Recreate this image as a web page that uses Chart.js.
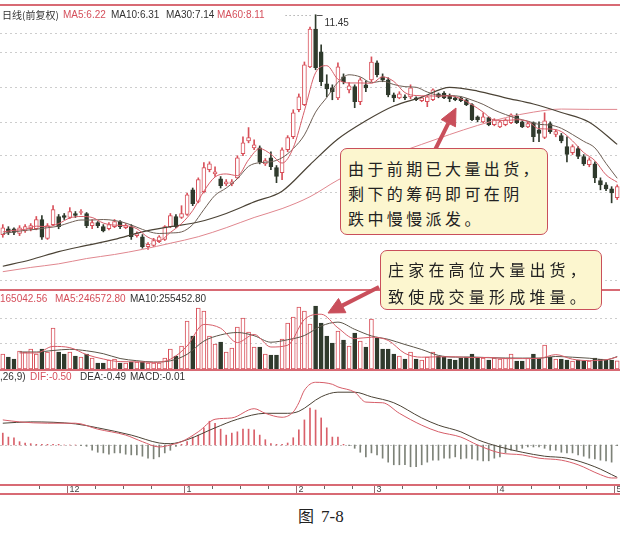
<!DOCTYPE html>
<html lang="zh-CN">
<head>
<meta charset="utf-8">
<title>日线 成交量 MACD</title>
<script src="https://cdn.jsdelivr.net/npm/chart.js@4.4.1/dist/chart.umd.min.js"></script>
<style>
  html, body { margin: 0; padding: 0; background: #fff; }
  #wrap { position: relative; width: 620px; height: 537px; overflow: hidden; background: #fff;
          font-family: "Liberation Sans", Arial, sans-serif; }
  #wrap canvas { position: absolute; left: 0; z-index: 1; }
  .rule { position: absolute; left: 0; width: 620px; background: #d86a74; z-index: 2; }
  .hdr { position: absolute; font-size: 10px; line-height: 12px; white-space: nowrap; z-index: 3; }
  .red { color: #d54f5b; }
  .dark { color: #333; }
  .cjk { font-family: "Noto Sans CJK SC", sans-serif; font-size: 10px; }
  svg.arrows { position: absolute; left: 0; top: 0; z-index: 4; }
  .note { position: absolute; z-index: 5; box-sizing: border-box; background: #fcf6cf;
          border: 1.5px solid #c94f5b; border-radius: 7px; color: #222; white-space: nowrap;
          font-family: "Noto Sans CJK SC", sans-serif; font-size: 16px; }
  .caption { position: absolute; left: 298px; top: 505px; line-height: 20px; color: #222; z-index: 3; white-space: nowrap; }
  .caption .fig { font-family: "Noto Sans CJK SC", sans-serif; font-size: 16px; }
  .caption .num { font-family: "Liberation Serif", serif; font-size: 17px; margin-left: 7px; }
</style>
</head>
<body>
<div id="wrap">
  <canvas id="priceCanvas" width="620" height="284" style="top:6px"></canvas>
  <canvas id="volCanvas" width="620" height="78" style="top:291px"></canvas>
  <canvas id="macdCanvas" width="620" height="124" style="top:372px"></canvas>

  <div class="rule" style="top:4px;height:2px"></div>
  <div class="rule" style="top:289px;height:2px"></div>
  <div class="rule" style="top:369px;height:2px"></div>

  <div class="hdr dark" style="left:2px;top:9px"><span class="cjk">日线(前复权)</span></div>
  <div class="hdr red"  style="left:63px;top:9px">MA5:6.22</div>
  <div class="hdr dark" style="left:111px;top:9px">MA10:6.31</div>
  <div class="hdr dark" style="left:166px;top:9px">MA30:7.14</div>
  <div class="hdr red"  style="left:217px;top:9px">MA60:8.11</div>

  <div class="hdr red"  style="left:0px;top:293px">165042.56</div>
  <div class="hdr red"  style="left:55px;top:293px">MA5:246572.80</div>
  <div class="hdr dark" style="left:130px;top:293px">MA10:255452.80</div>

  <div class="hdr dark" style="left:0px;top:371px">,26,9)</div>
  <div class="hdr red"  style="left:30px;top:371px">DIF:-0.50</div>
  <div class="hdr dark" style="left:80px;top:371px">DEA:-0.49</div>
  <div class="hdr dark" style="left:130px;top:371px">MACD:-0.01</div>

  <svg class="arrows" width="620" height="537" viewBox="0 0 620 537">
    <g fill="#c94f5b" stroke="#c94f5b">
      <line x1="435" y1="150" x2="448.4" y2="123.2" stroke-width="4"/>
      <polygon points="456,108 455.5,126.8 441.2,119.6" stroke-width="1"/>
      <line x1="379" y1="287" x2="342.2" y2="305.6" stroke-width="4"/>
      <polygon points="328,313 345.9,312.7 338.5,298.5" stroke-width="1"/>
    </g>
  </svg>

  <div class="note" style="left:340px;top:148px;width:208px;height:87px;padding:7px 0 0 7px;line-height:25px;letter-spacing:3.4px;">
    由于前期已大量出货，<br>剩下的筹码即可在阴<br>跌中慢慢派发。
  </div>
  <div class="note" style="left:380px;top:250px;width:222px;height:60px;padding:5px 0 0 7px;line-height:27px;letter-spacing:4.2px;">
    庄家在高位大量出货，<br>致使成交量形成堆量。
  </div>

  <div class="caption"><span class="fig">图</span><span class="num">7-8</span></div>
</div>

<script>
// ---- daily candles (前复权), one entry per trading day ----
const open = [
  5.14, 5.25, 5.25, 5.16, 5.21, 5.25, 5.25, 5.43, 5.07, 5.33,
  5.49, 5.51, 5.47, 5.55, 5.57, 5.55, 5.31, 5.37, 5.29, 5.25,
  5.29, 5.39, 5.27, 5.29, 5.12, 5.10, 4.92, 4.94, 5.01, 5.05,
  5.29, 5.49, 5.47, 5.53, 6.05, 5.80, 6.01, 6.51, 6.41, 6.30,
  6.18, 6.18, 6.32, 6.90, 7.23, 7.05, 7.05, 6.65, 6.80, 6.56,
  6.44, 7.00, 7.34, 8.10, 8.25, 9.47, 10.87, 10.00, 8.90, 8.77,
  8.46, 9.13, 8.71, 8.81, 8.34, 8.87, 9.03, 9.61, 9.13, 9.03,
  8.55, 8.46, 8.49, 8.49, 8.46, 8.37, 8.34, 8.40, 8.58, 8.61,
  8.52, 8.46, 8.46, 8.40, 8.25, 7.89, 7.75, 7.87, 7.67, 7.61,
  7.67, 7.73, 7.92, 7.75, 7.61, 7.73, 7.53, 7.32, 7.70, 7.40,
  7.37, 7.08, 6.93, 7.03, 6.83, 6.63, 6.65, 6.26, 6.16, 6.07,
  5.88
];
const high = [
  5.33, 5.29, 5.27, 5.31, 5.33, 5.35, 5.49, 5.51, 5.35, 5.71,
  5.53, 5.55, 5.67, 5.59, 5.63, 5.57, 5.43, 5.39, 5.33, 5.37,
  5.43, 5.41, 5.35, 5.33, 5.19, 5.14, 4.99, 5.07, 5.12, 5.31,
  5.55, 5.53, 5.71, 5.98, 6.09, 6.32, 6.68, 6.70, 6.58, 6.35,
  6.28, 6.28, 6.85, 7.34, 7.59, 7.26, 7.10, 6.78, 6.95, 6.61,
  7.05, 7.37, 8.10, 8.58, 9.64, 10.95, 11.45, 10.26, 9.20, 8.87,
  9.61, 9.23, 8.94, 8.87, 9.10, 9.00, 9.82, 9.68, 9.23, 9.10,
  8.61, 8.65, 8.55, 8.87, 8.49, 8.49, 8.52, 8.74, 8.61, 8.65,
  8.58, 8.49, 8.49, 8.43, 8.28, 7.92, 8.01, 7.89, 7.84, 7.78,
  7.84, 7.98, 7.98, 7.78, 7.75, 7.75, 7.75, 8.01, 7.75, 7.53,
  7.43, 7.34, 7.13, 7.08, 6.88, 6.80, 6.70, 6.32, 6.21, 6.12,
  6.16
];
const low = [
  5.09, 5.14, 5.14, 5.12, 5.18, 5.21, 5.23, 5.05, 5.05, 5.31,
  5.25, 5.43, 5.45, 5.47, 5.53, 5.27, 5.25, 5.27, 5.19, 5.23,
  5.27, 5.25, 5.25, 5.05, 5.09, 4.89, 4.87, 4.92, 4.99, 5.03,
  5.27, 5.27, 5.45, 5.51, 5.71, 5.77, 5.98, 6.46, 6.35, 6.09,
  6.14, 6.14, 6.30, 6.85, 7.18, 7.00, 6.65, 6.61, 6.51, 6.21,
  6.28, 6.95, 7.29, 8.04, 8.22, 9.44, 9.37, 8.84, 8.49, 8.40,
  8.40, 8.90, 8.61, 8.16, 8.25, 8.65, 8.97, 9.13, 8.97, 8.49,
  8.34, 8.43, 8.40, 8.43, 8.37, 8.34, 8.19, 8.37, 8.46, 8.43,
  8.34, 8.37, 8.34, 8.22, 7.78, 7.75, 7.73, 7.64, 7.64, 7.59,
  7.64, 7.70, 7.70, 7.59, 7.59, 7.21, 7.21, 7.29, 7.43, 7.34,
  7.18, 6.70, 6.88, 6.78, 6.61, 6.58, 6.21, 6.05, 6.03, 5.77,
  5.84
];
const close = [
  5.27, 5.18, 5.18, 5.27, 5.29, 5.31, 5.43, 5.09, 5.31, 5.63,
  5.29, 5.47, 5.59, 5.51, 5.59, 5.31, 5.37, 5.31, 5.21, 5.33,
  5.39, 5.29, 5.31, 5.10, 5.16, 4.92, 4.96, 5.03, 5.10, 5.29,
  5.51, 5.29, 5.55, 5.94, 5.75, 6.28, 6.56, 6.65, 6.46, 6.14,
  6.23, 6.23, 6.80, 7.18, 7.32, 7.13, 6.70, 6.73, 6.58, 6.35,
  7.00, 7.32, 8.01, 8.49, 9.54, 10.87, 9.44, 8.97, 8.74, 8.65,
  9.47, 8.97, 8.84, 8.34, 9.03, 8.77, 9.64, 9.20, 9.03, 8.55,
  8.46, 8.58, 8.46, 8.77, 8.40, 8.46, 8.49, 8.71, 8.49, 8.46,
  8.43, 8.40, 8.37, 8.25, 7.81, 7.81, 7.89, 7.67, 7.81, 7.75,
  7.81, 7.95, 7.73, 7.61, 7.70, 7.34, 7.43, 7.78, 7.48, 7.48,
  7.23, 6.88, 7.08, 6.83, 6.65, 6.75, 6.32, 6.16, 6.07, 5.98,
  6.12
];

// ---- moving averages of price, [day index, value] ----
const ma5 = [[0,5.19],[2,5.22],[4,5.24],[6,5.30],[8,5.29],[10,5.35],[12,5.46],[14,5.49],[16,5.47],[18,5.36],
  [20,5.32],[22,5.31],[24,5.25],[26,5.09],[28,5.03],[30,5.18],[32,5.35],[34,5.61],[36,6.02],[38,6.34],
  [40,6.41],[42,6.37],[44,6.75],[46,7.03],[48,6.89],[50,6.67],[52,7.05],[54,8.07],[56,9.27],[58,9.51],
  [60,9.05],[62,8.93],[64,8.93],[66,8.92],[68,9.13],[70,8.98],[72,8.62],[74,8.53],[76,8.52],[78,8.51],
  [80,8.52],[82,8.43],[84,8.25],[86,8.03],[88,7.80],[90,7.79],[92,7.81],[94,7.76],[96,7.56],[98,7.55],
  [100,7.48],[102,7.23],[104,6.93],[106,6.73],[108,6.39],[110,6.22]];
const ma10 = [[0,5.16],[2,5.19],[4,5.22],[6,5.24],[8,5.27],[10,5.30],[12,5.37],[14,5.42],[16,5.42],[18,5.43],
  [20,5.41],[22,5.36],[24,5.28],[26,5.20],[28,5.16],[30,5.17],[32,5.19],[34,5.33],[36,5.63],[38,5.93],
  [40,6.09],[42,6.30],[44,6.59],[46,6.68],[48,6.70],[50,6.80],[52,7.03],[54,7.39],[56,8.03],[58,8.47],
  [60,8.95],[62,9.20],[64,9.13],[66,8.94],[68,8.99],[70,8.88],[72,8.81],[74,8.79],[76,8.64],[78,8.54],
  [80,8.53],[82,8.50],[84,8.39],[86,8.26],[88,8.09],[90,7.96],[92,7.85],[94,7.77],[96,7.68],[98,7.66],
  [100,7.57],[102,7.40],[104,7.22],[106,7.05],[108,6.66],[110,6.31]];
const ma30 = [[0,4.58],[5,4.69],[10,4.83],[15,4.94],[20,5.05],[25,5.19],[30,5.29],[35,5.38],[40,5.55],[45,5.79],
  [50,6.02],[55,6.63],[60,7.28],[65,7.78],[70,8.21],[75,8.48],[80,8.79],[85,8.67],[90,8.46],[95,8.27],
  [100,8.02],[105,7.74],[110,7.14]];
const ma60 = [[0,4.49],[5,4.56],[10,4.62],[15,4.71],[20,4.78],[25,4.87],[30,4.98],[35,5.10],[40,5.27],[45,5.47],
  [50,5.65],[55,5.90],[60,6.27],[65,6.58],[70,6.88],[75,7.14],[80,7.40],[85,7.65],[90,7.87],[95,8.03],
  [100,8.12],[105,8.11],[110,8.11]];

// ---- volume (手) ----
const volume = [
  307500, 246000, 205000, 369000, 348500, 410000, 307500, 410000, 348500, 840500,
  348500, 307500, 348500, 266500, 246000, 307500, 225500, 123000, 123000, 184500,
  205000, 123000, 123000, 143500, 143500, 143500, 123000, 123000, 123000, 225500,
  410000, 266500, 471500, 984000, 676500, 1250500, 1189000, 676500, 512500, 553500,
  348500, 430500, 861000, 1045500, 758500, 451000, 451000, 307500, 287000, 287000,
  615000, 943000, 1066000, 1271000, 1189000, 922500, 1291500, 943000, 676500, 533000,
  779000, 594500, 471500, 738000, 574000, 451000, 1025000, 635500, 410000, 410000,
  307500, 266500, 205000, 348500, 205000, 184500, 246000, 348500, 266500, 246000,
  205000, 184500, 225500, 246000, 307500, 225500, 225500, 184500, 225500, 205000,
  225500, 307500, 164000, 164000, 225500, 307500, 225500, 492000, 246000, 205000,
  205000, 184500, 164000, 184500, 164000, 164000, 225500, 205000, 184500, 184500,
  165042.56
];
const volMa5 = [[3,328000],[6,328000],[9,463300],[12,438700],[15,295200],[18,205000],[21,151700],[24,147600],
  [27,135300],[30,200900],[33,471500],[36,914300],[39,836400],[42,541200],[45,709300],[48,451000],[51,487900],
  [54,1016800],[57,1123400],[60,844600],[63,623200],[66,651900],[69,586300],[72,319800],[75,241900],[78,250100],
  [81,250100],[84,233700],[87,237800],[90,213200],[93,213200],[96,217300],[99,295200],[102,200900],[105,172200],
  [108,188600],[110,246572.80]];
const volMa10 = [[3,348500],[6,348500],[9,379300],[12,403900],[15,373100],[18,313700],[21,215300],[24,170200],
  [27,143500],[30,168100],[33,301400],[36,572000],[39,699100],[42,748300],[45,682700],[48,549400],[51,600700],
  [54,686800],[57,881500],[60,961500],[63,813900],[66,678600],[69,608900],[72,502300],[75,399800],[78,278800],
  [81,244000],[84,246000],[87,231700],[90,225500],[93,223500],[96,223500],[99,256300],[102,241900],[105,221400],
  [108,188600],[110,255452.80]];

// ---- MACD(12,26,9) ----
const macdBar = [
  0.18, 0.12, 0.11, 0.05, 0.03, 0.02, 0.01, 0.01, 0.01, 0.01,
  0.01, 0.00, 0.00, 0.00, -0.01, -0.02, -0.08, -0.11, -0.12, -0.14,
  -0.12, -0.12, -0.14, -0.15, -0.15, -0.17, -0.20, -0.21, -0.18, -0.12,
  -0.08, -0.02, 0.01, 0.05, 0.12, 0.15, 0.26, 0.36, 0.33, 0.24,
  0.15, 0.18, 0.20, 0.24, 0.24, 0.23, 0.15, 0.08, 0.02, 0.01,
  0.01, 0.03, 0.11, 0.23, 0.38, 0.56, 0.53, 0.41, 0.26, 0.12,
  0.12, 0.01, -0.01, -0.05, -0.11, -0.18, -0.12, -0.15, -0.20, -0.26,
  -0.30, -0.30, -0.30, -0.33, -0.33, -0.30, -0.26, -0.23, -0.23, -0.20,
  -0.20, -0.18, -0.21, -0.20, -0.21, -0.23, -0.24, -0.24, -0.20, -0.18,
  -0.12, -0.08, -0.08, -0.05, -0.03, -0.03, -0.03, -0.05, -0.08, -0.08,
  -0.11, -0.12, -0.12, -0.15, -0.17, -0.20, -0.21, -0.23, -0.24, -0.26,
  -0.01
];
const dif = [[0,0.38],[3,0.35],[8,0.33],[13,0.33],[17,0.24],[22,0.15],[25,0.05],[28,-0.03],[30,0.00],[32,0.05],
  [35,0.20],[38,0.39],[41,0.41],[45,0.55],[47,0.48],[50,0.42],[52,0.50],[53,0.64],[54,0.83],[56,0.95],
  [59,0.92],[60,0.88],[63,0.80],[65,0.65],[68,0.64],[71,0.48],[75,0.30],[78,0.20],[82,0.12],[85,0.00],
  [89,-0.12],[93,-0.15],[96,-0.20],[100,-0.23],[103,-0.30],[107,-0.45],[109,-0.50],[110,-0.50]];
const dea = [[0,0.33],[5,0.35],[13,0.32],[17,0.26],[23,0.15],[28,0.03],[30,0.02],[33,0.08],[38,0.26],[42,0.39],
  [47,0.48],[51,0.48],[53,0.51],[57,0.73],[60,0.80],[63,0.80],[66,0.73],[70,0.64],[75,0.41],[78,0.30],
  [82,0.20],[85,0.08],[89,-0.03],[93,-0.11],[97,-0.17],[101,-0.20],[106,-0.33],[110,-0.49]];

// ---- axis marks ----
const priceGrid = [10.72, 10.0, 8.80, 7.75, 6.88, 6.01, 4.99, 4.36];
const volGrid = [1046000, 533000];
const monthMarks = [['12', 12], ['1', 33], ['2', 53], ['3', 67], ['4', 89], ['5', 110]];
const weekMarks = [7, 17, 22, 27, 38, 43, 48, 58, 63, 72, 78, 84, 95, 100, 105];

// ---- styling ----
const RED = '#d8505a', DARK = '#2f3a2c';
const MA5C = '#d65d68', MA10C = '#6e5f55', MA30C = '#4b4336', MA60C = '#e0878f';
const isUp = close.map((c, i) => c >= open[i]);
const toXY = arr => arr.map(([x, y]) => ({ x, y }));
const xAxis = { type: 'linear', min: -0.5, max: 110.5, offset: false, display: false };

const lineSet = (points, color, width) => ({
  type: 'line', data: toXY(points), borderColor: color, borderWidth: width || 1,
  pointRadius: 0, fill: false, cubicInterpolationMode: 'monotone', order: 0
});

// dotted horizontal rows behind the marks
const dottedRows = {
  id: 'dottedRows',
  beforeDatasetsDraw(chart, args, opts) {
    const vals = opts.values || [];
    const { ctx, chartArea: a, scales: { y } } = chart;
    ctx.save();
    ctx.strokeStyle = opts.color || '#cdcdcd';
    ctx.lineWidth = 1;
    ctx.setLineDash([2, 3]);
    vals.forEach(v => {
      const py = Math.round(y.getPixelForValue(v)) + 0.5;
      ctx.beginPath(); ctx.moveTo(a.left, py); ctx.lineTo(a.right, py); ctx.stroke();
    });
    ctx.restore();
  }
};

// marker and label for the highest price of the period
const peakMark = {
  id: 'peakMark',
  afterDatasetsDraw(chart) {
    const { ctx, scales: { x, y } } = chart;
    const top = Math.max(...high);
    const i = high.indexOf(top);
    const px = x.getPixelForValue(i);
    const py = Math.round(y.getPixelForValue(top)) + 0.5;
    ctx.save();
    ctx.strokeStyle = '#8a8a8a';
    ctx.setLineDash([1, 3]);
    ctx.beginPath(); ctx.moveTo(px - 30, py); ctx.lineTo(px - 2, py); ctx.stroke();
    ctx.setLineDash([]);
    ctx.strokeStyle = '#555';
    ctx.beginPath(); ctx.moveTo(px + 1, py); ctx.lineTo(px + 7, py); ctx.stroke();
    ctx.fillStyle = '#333';
    ctx.font = '10px "Liberation Sans", Arial, sans-serif';
    ctx.textBaseline = 'top';
    ctx.fillText(top.toFixed(2), px + 9, py + 3);
    ctx.restore();
  }
};

// date strip under the MACD panel
const dateStrip = {
  id: 'dateStrip',
  afterDraw(chart) {
    const { ctx, chartArea: a, scales: { x } } = chart;
    const top = a.bottom + 1, bottom = chart.height - 3;
    ctx.save();
    ctx.fillStyle = '#d86a74';
    ctx.fillRect(0, top, chart.width, 2);
    ctx.fillRect(0, bottom, chart.width, 2);
    ctx.strokeStyle = '#666';
    ctx.lineWidth = 1;
    weekMarks.forEach(i => {
      const px = Math.round(x.getPixelForValue(i - 0.5)) + 0.5;
      ctx.beginPath(); ctx.moveTo(px, top + 2); ctx.lineTo(px, top + 5); ctx.stroke();
    });
    ctx.fillStyle = '#444';
    ctx.font = '9px "Liberation Sans", Arial, sans-serif';
    ctx.textBaseline = 'middle';
    monthMarks.forEach(([label, i]) => {
      const px = Math.round(x.getPixelForValue(i - 0.5)) + 0.5;
      ctx.strokeStyle = '#9a6a70';
      ctx.beginPath(); ctx.moveTo(px, top + 2); ctx.lineTo(px, bottom); ctx.stroke();
      ctx.fillText(label, px + 2, (top + bottom) / 2 + 1.5);
    });
    ctx.restore();
  }
};

const baseOptions = (yScale, extraPlugins) => ({
  responsive: false, animation: false, devicePixelRatio: 1,
  layout: { padding: 0 },
  scales: { x: xAxis, y: yScale },
  plugins: Object.assign({ legend: { display: false }, tooltip: { enabled: false } }, extraPlugins)
});

// price panel
new Chart(document.getElementById('priceCanvas'), {
  type: 'bar',
  data: {
    datasets: [
      lineSet(ma5, MA5C), lineSet(ma10, MA10C), lineSet(ma30, MA30C, 1.2), lineSet(ma60, MA60C),
      {
        type: 'bar', order: 2, grouped: false, barThickness: 4, minBarLength: 1,
        data: open.map((o, i) => ({ x: i, y: [o, close[i]] })),
        backgroundColor: isUp.map(u => u ? '#ffffff' : DARK),
        borderColor: isUp.map(u => u ? RED : DARK),
        borderWidth: 1, borderSkipped: false
      },
      {
        type: 'bar', order: 3, grouped: false, barThickness: 1,
        data: low.map((l, i) => ({ x: i, y: [l, high[i]] })),
        backgroundColor: isUp.map(u => u ? RED : DARK), borderWidth: 0
      }
    ]
  },
  options: baseOptions({ type: 'logarithmic', min: 4.21, max: 11.82, display: false },
                       { dottedRows: { values: priceGrid } }),
  plugins: [dottedRows, peakMark]
});

// volume panel
new Chart(document.getElementById('volCanvas'), {
  type: 'bar',
  data: {
    datasets: [
      lineSet(volMa5, MA5C), lineSet(volMa10, '#5b5448'),
      {
        type: 'bar', order: 2, grouped: false, barThickness: 4,
        data: volume.map((v, i) => ({ x: i, y: v })),
        backgroundColor: isUp.map(u => u ? '#ffffff' : DARK),
        borderColor: isUp.map(u => u ? RED : DARK),
        borderWidth: 1, borderSkipped: false
      }
    ]
  },
  options: baseOptions({ type: 'linear', min: 0, max: 1600000, display: false },
                       { dottedRows: { values: volGrid } }),
  plugins: [dottedRows]
});

// MACD panel with the date strip below it
const macdOptions = baseOptions({ type: 'linear', min: -0.576, max: 1.106, display: false },
                                { dottedRows: { values: [0], color: '#c4c4c4' } });
macdOptions.layout = { padding: { bottom: 13 } };
new Chart(document.getElementById('macdCanvas'), {
  type: 'bar',
  data: {
    datasets: [
      lineSet(dif, MA5C), lineSet(dea, MA30C),
      {
        type: 'bar', order: 2, grouped: false, barThickness: 1,
        data: macdBar.map((v, i) => ({ x: i, y: v })),
        backgroundColor: macdBar.map(v => v >= 0 ? '#d9606a' : '#7d8278'),
        borderWidth: 0
      }
    ]
  },
  options: macdOptions,
  plugins: [dottedRows, dateStrip]
});
</script>
</body>
</html>
